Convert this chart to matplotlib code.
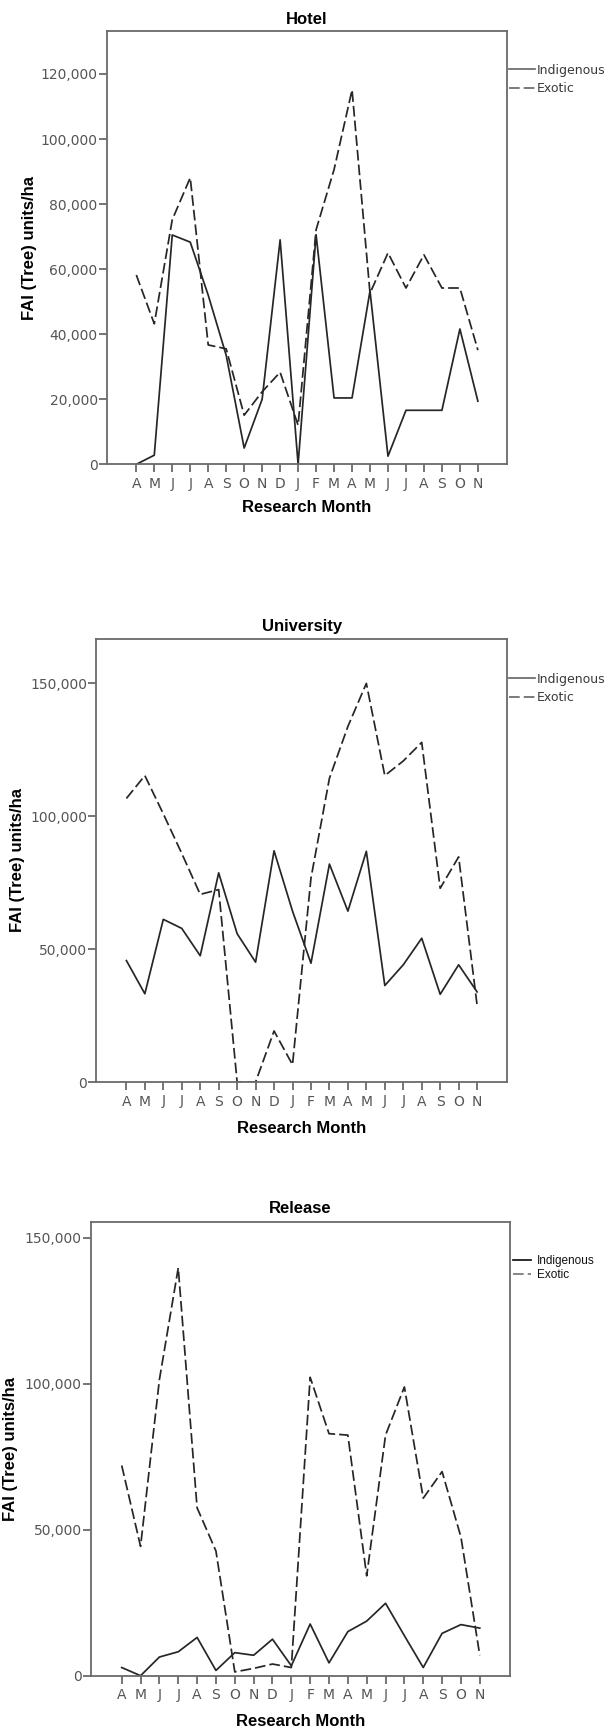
import matplotlib
matplotlib.use("Agg")
import matplotlib.pyplot as plt
from matplotlib.ticker import FuncFormatter, MultipleLocator

# ---------------- data ----------------
months = ['A', 'M', 'J', 'J', 'A', 'S', 'O', 'N', 'D', 'J',
          'F', 'M', 'A', 'M', 'J', 'J', 'A', 'S', 'O', 'N']

hotel_indigenous = [0, 2800, 70500, 68300, 52000, 33500, 5000, 20000, 69000, 0,
                    70600, 20400, 20400, 53300, 2500, 16600, 16600, 16600, 41600, 19400]
hotel_exotic = [58200, 43200, 75200, 88100, 36700, 35500, 15100, 22300, 28300, 12000,
                72100, 90600, 115100, 52600, 65000, 54200, 64400, 54200, 54200, 35100]

univ_indigenous = [45700, 33200, 61200, 57800, 47500, 78700, 55800, 45100, 87000, 64300,
                   44700, 82000, 64300, 86800, 36300, 44100, 54100, 33000, 44100, 33900]
univ_exotic = [106700, 115300, 100900, 86000, 70600, 72400, 0, 0, 19200, 6500,
               76700, 114300, 133800, 150000, 115300, 120800, 127800, 72900, 84700, 28900]

release_indigenous = [2800, 0, 6400, 8200, 13100, 1800, 7900, 7000, 12500, 3400,
                      17700, 4400, 15100, 18700, 24800, 13700, 2800, 14500, 17500, 16300]
release_exotic = [72000, 44300, 101400, 139700, 57500, 42700, 1300, 2500, 4000, 2800,
                  102200, 82900, 82400, 34200, 82400, 98900, 60800, 69900, 47500, 7000]

series_labels = ['Indigenous', 'Exotic']
panel_titles = ['Hotel', 'University', 'Release']
x_label = 'Research Month'
y_label = 'FAI (Tree) units/ha'

# ---------------- style / layout ----------------
W, H = 608, 1734
plt.rcParams['lines.scale_dashes'] = False
LINE_C = '#262626'
SPINE_C = '#6a6a6a'
TICK_C = '#555555'
DASH = (7.7, 2.9)

fig = plt.figure(figsize=(W / 100, H / 100), dpi=100)

panels = [
    dict(title=panel_titles[0], ind=hotel_indigenous, exo=hotel_exotic,
         box=(107, 30.7, 507, 464.3), ymax=133300, ystep=20000, tpad=4.6,
         leg_x=509, leg_y=79.5, leg_style='A', xl_y=508, yl_x=30),
    dict(title=panel_titles[1], ind=univ_indigenous, exo=univ_exotic,
         box=(96.3, 639, 507, 1082), ymax=166700, ystep=50000, tpad=5.8,
         leg_x=509, leg_y=688.5, leg_style='A', xl_y=1128.6, yl_x=17),
    dict(title=panel_titles[2], ind=release_indigenous, exo=release_exotic,
         box=(91, 1221.7, 510.3, 1675.7), ymax=155500, ystep=50000, tpad=6.5,
         leg_x=513, leg_y=1268.2, leg_style='B', xl_y=1721, yl_x=11),
]

xs = list(range(len(months)))
fmt = FuncFormatter(lambda v, p: f'{int(round(v)):,}')

for p in panels:
    l, t, r, b = p['box']
    ax = fig.add_axes([l / W, 1 - b / H, (r - l) / W, (b - t) / H])
    ax.plot(xs, p['ind'], color=LINE_C, lw=1.25, label=series_labels[0])
    ax.plot(xs, p['exo'], color=LINE_C, lw=1.25, dashes=DASH, label=series_labels[1])
    ax.set_xlim(-1.63, len(months) - 1 + 1.62)
    ax.set_ylim(0, p['ymax'])
    ax.set_xticks(xs)
    ax.set_xticklabels(months)
    ax.yaxis.set_major_locator(MultipleLocator(p['ystep']))
    ax.yaxis.set_major_formatter(fmt)
    for s in ax.spines.values():
        s.set_color(SPINE_C)
        s.set_linewidth(1.3)
    ax.tick_params(axis='both', direction='out', length=5.5, width=1.3,
                   color=SPINE_C, labelcolor=TICK_C, labelsize=10)
    ax.tick_params(axis='y', pad=1.2)
    ax.tick_params(axis='x', pad=3.5)
    for lab in ax.get_xticklabels() + ax.get_yticklabels():
        lab.set_family('DejaVu Sans')

    ax.set_title(p['title'], fontsize=12, fontweight='bold',
                 family='Liberation Sans', pad=p['tpad'])
    ax.set_xlabel(x_label, fontsize=12, fontweight='bold',
                  family='Liberation Sans', va='center')
    ax.set_ylabel(y_label, fontsize=12, fontweight='bold',
                  family='Liberation Sans', va='center')
    ax.xaxis.set_label_coords(0.5, (b - p['xl_y']) / (b - t))
    ax.yaxis.set_label_coords((p['yl_x'] - l) / (r - l), 0.5)

    if p['leg_style'] == 'A':
        fs_px = 12.5
        leg = ax.legend(loc='center left',
                        bbox_to_anchor=(p['leg_x'] / W, 1 - p['leg_y'] / H),
                        bbox_transform=fig.transFigure, frameon=False,
                        borderpad=0, borderaxespad=0,
                        handlelength=26 / fs_px, handletextpad=2 / fs_px,
                        labelspacing=0.43,
                        prop={'family': 'DejaVu Sans', 'size': 9})
        for txt in leg.get_texts():
            txt.set_color('#3a3a3a')
        for h in leg.get_lines():
            h.set_color('#6a6a6a')
    else:
        fs_px = 11.8
        leg = ax.legend(loc='center left',
                        bbox_to_anchor=(p['leg_x'] / W, 1 - p['leg_y'] / H),
                        bbox_transform=fig.transFigure, frameon=False,
                        borderpad=0, borderaxespad=0,
                        handlelength=18 / fs_px, handletextpad=6 / fs_px,
                        labelspacing=0.2,
                        prop={'family': 'Liberation Sans', 'size': 8.5})
        for txt in leg.get_texts():
            txt.set_color('#111111')
        lines = leg.get_lines()
        lines[0].set_color('#111111')
        lines[1].set_color('#777777')

fig.savefig('out.png', dpi=100)
